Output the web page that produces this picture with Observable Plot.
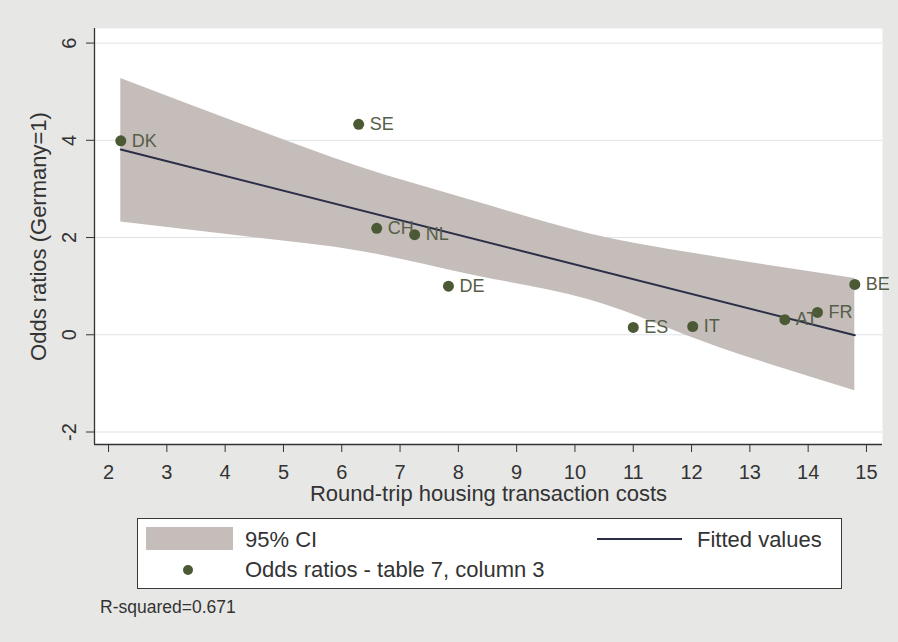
<!DOCTYPE html>
<html><head><meta charset="utf-8">
<script src="https://cdn.jsdelivr.net/npm/d3@7"></script>
<script src="https://cdn.jsdelivr.net/npm/@observablehq/plot@0.6"></script>
<style>
html,body{margin:0;padding:0;background:#e7e7e6;}
#wrap{position:relative;width:898px;height:642px;font-family:"Liberation Sans",Arial,sans-serif;color:#333;overflow:hidden;}
#chart{position:absolute;left:0;top:0;}
#legend{position:absolute;left:137px;top:518px;width:703px;height:69px;background:#fff;border:1.5px solid #3a3a3a;}
.lt{position:absolute;font-size:22px;line-height:24px;height:24px;white-space:nowrap;color:#333;}
#sw{position:absolute;left:8px;top:8px;width:87px;height:23px;background:#c4bdba;}
#ln{position:absolute;left:459px;top:18.5px;width:85px;height:2px;background:#2b2e47;}
#dt{position:absolute;left:44.5px;top:45.5px;width:10px;height:10px;border-radius:50%;background:#4b5935;}
#rsq{position:absolute;left:100px;top:597px;font-size:17.5px;line-height:20px;color:#333;white-space:nowrap;}
</style>
</head><body>
<div id="wrap">
  <div id="chart"></div>
  <div id="legend">
    <div id="sw"></div>
    <div class="lt" id="l1" style="left:107px;top:8.5px;"></div>
    <div id="ln"></div>
    <div class="lt" id="l2" style="left:559px;top:8.5px;"></div>
    <div id="dt"></div>
    <div class="lt" id="l3" style="left:107px;top:39px;"></div>
  </div>
  <div id="rsq"></div>
</div>
<script>
// Data
const countries = ["DK","SE","CH","NL","DE","ES","IT","AT","FR","BE"];
const costs = [2.21, 6.29, 6.60, 7.25, 7.83, 11.0, 12.02, 13.6, 14.16, 14.8];
const odds  = [3.99, 4.33, 2.19, 2.06, 1.00, 0.15, 0.17, 0.31, 0.46, 1.035];

const fitX = [2.21, 14.8];
const fitY = [3.81, -0.01];

const bandX  = [2.21, 4.26, 6.31, 8.19, 10.24, 12.47, 14.8];
const bandLo = [2.32, 2.03, 1.72, 1.24, 0.72, -0.26, -1.15];
const bandHi = [5.27, 4.34, 3.45, 2.78, 2.08, 1.59, 1.16];

const xTicks = [2,3,4,5,6,7,8,9,10,11,12,13,14,15];
const yTicks = [-2,0,2,4,6];
const xDomain = [1.759, 15.275];
const yDomain = [-2.257, 6.30];

const xTitle = "Round-trip housing transaction costs";
const yTitle = "Odds ratios (Germany=1)";
const legendCI = "95% CI";
const legendFit = "Fitted values";
const legendPts = "Odds ratios - table 7, column 3";
const rsqText = "R-squared=0.671";

const pts = countries.map((c, i) => ({c, x: costs[i], y: odds[i]}));
const fit = fitX.map((x, i) => ({x, y: fitY[i]}));
const band = bandX.map((x, i) => ({x, lo: bandLo[i], hi: bandHi[i]}));

const chart = Plot.plot({
  width: 898, height: 510,
  marginLeft: 94, marginRight: 16, marginTop: 28, marginBottom: 66,
  style: {background: "transparent", fontFamily: "'Liberation Sans', Arial, sans-serif", color: "#333", overflow: "visible"},
  x: {domain: xDomain, label: null},
  y: {domain: yDomain, label: null},
  marks: [
    Plot.frame({fill: "white", stroke: "none"}),
    Plot.gridY({ticks: yTicks, stroke: "#dde3e6", strokeOpacity: 1}),
    Plot.areaY(band, {x: "x", y1: "lo", y2: "hi", fill: "#c4bdba", curve: "monotone-x"}),
    Plot.line(fit, {x: "x", y: "y", stroke: "#2b2e47", strokeWidth: 2}),
    Plot.dot(pts, {x: "x", y: "y", r: 5.5, fill: "#4b5935"}),
    Plot.text(pts, {x: "x", y: "y", text: "c", dx: 11, textAnchor: "start", fill: "#565e47", fontSize: 18}),
    Plot.ruleX([xDomain[0]], {stroke: "#333", strokeWidth: 1.3}),
    Plot.ruleY([yDomain[0]], {stroke: "#333", strokeWidth: 1.3}),
    Plot.axisX({ticks: xTicks, tickSize: 8, tickPadding: 12, fontSize: 20, label: null, tickFormat: d => String(d)}),
    Plot.axisY({ticks: yTicks, tickSize: 8, tickPadding: 11, tickRotate: -90, fontSize: 20, label: null, tickFormat: d => String(d)}),
    Plot.text([xTitle], {frameAnchor: "bottom", dy: 56, lineAnchor: "bottom", textAnchor: "middle", fontSize: 22, fill: "#333"}),
    Plot.text([yTitle], {frameAnchor: "left", dx: -49, rotate: -90, lineAnchor: "bottom", textAnchor: "middle", fontSize: 22, fill: "#333"})
  ]
});
document.getElementById("chart").appendChild(chart);
document.getElementById("l1").textContent = legendCI;
document.getElementById("l2").textContent = legendFit;
document.getElementById("l3").textContent = legendPts;
document.getElementById("rsq").textContent = rsqText;
</script>
</body></html>
